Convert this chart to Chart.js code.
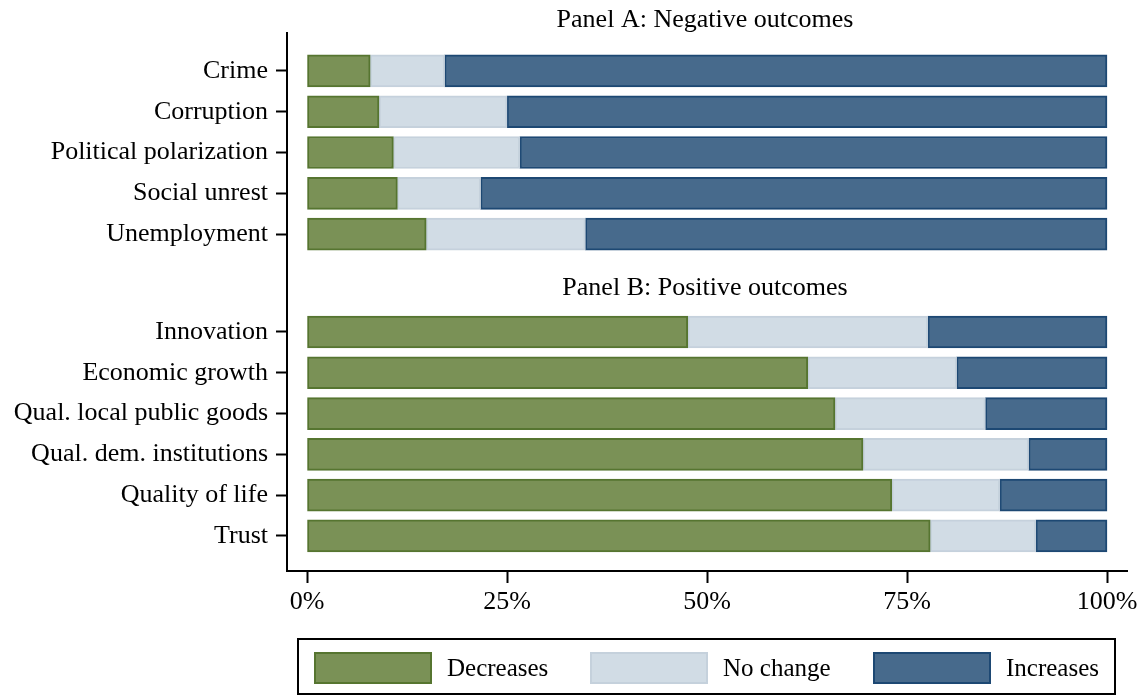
<!DOCTYPE html>
<html>
<head>
<meta charset="utf-8">
<script src="https://cdn.jsdelivr.net/npm/chart.js@4.4.1/dist/chart.umd.min.js"></script>
<style>
html,body{margin:0;padding:0;background:#fff;}
#wrap{position:relative;width:1147px;height:696px;overflow:hidden;}
#legend{position:absolute;left:297px;top:638px;width:819px;height:57px;box-sizing:border-box;border:2px solid #000;}
.item{position:absolute;top:12px;height:32px;display:flex;align-items:center;font-family:"Liberation Serif",serif;font-size:25px;color:#000;white-space:nowrap;}
.sw{width:118px;height:32px;box-sizing:border-box;border:2px solid;margin-right:15px;}
</style>
</head>
<body>
<div id="wrap">
<canvas id="c" width="1147" height="696"></canvas>
<div id="legend"></div>
</div>
<script>
// ---- data ----
const categoriesA = ['Crime','Corruption','Political polarization','Social unrest','Unemployment'];
const decreasesA  = [7.9, 9.0, 10.8, 11.3, 14.9];
const noChangeA   = [9.3, 16.0, 15.8, 10.4, 19.9];
const increasesA  = [82.8, 75.0, 73.4, 78.3, 65.2];

const categoriesB = ['Innovation','Economic growth','Qual. local public goods','Qual. dem. institutions','Quality of life','Trust'];
const decreasesB  = [47.6, 62.6, 66.0, 69.5, 73.1, 77.9];
const noChangeB   = [30.0, 18.6, 18.8, 20.7, 13.5, 13.2];
const increasesB  = [22.4, 18.8, 15.2, 9.8, 13.4, 8.9];

const seriesNames = ['Decreases','No change','Increases'];
const xTicks = [0, 25, 50, 75, 100];
const panelTitles = ['Panel A: Negative outcomes','Panel B: Positive outcomes'];

// ---- layout (slot positions on the category axis) ----
const gapB = 6.4;            // slot where panel B starts
const titleSlotB = 5.32;     // slot for panel B title
const posA = categoriesA.map((_, i) => i);
const posB = categoriesB.map((_, i) => gapB + i);
const positions = posA.concat(posB);
const labels = categoriesA.concat(categoriesB);

const fills   = ['#7a9156', '#d1dce5', '#476a8c'];
const borders = ['#567530', '#c5d1dc', '#1d4873'];
const valuesAll = [
  decreasesA.concat(decreasesB),
  noChangeA.concat(noChangeB),
  increasesA.concat(increasesB)
];

const FONT = '"Liberation Serif", "Times New Roman", serif';

const datasets = seriesNames.map((name, s) => ({
  label: name,
  data: positions.map((p, i) => ({ x: valuesAll[s][i], y: p })),
  backgroundColor: fills[s],
  borderColor: borders[s],
  borderWidth: 2,
  borderSkipped: false,
  barThickness: 32
}));

const titlePlugin = {
  id: 'panelTitles',
  afterDraw(chart) {
    const ctx = chart.ctx;
    const xs = chart.scales.x, ys = chart.scales.y;
    ctx.save();
    ctx.fillStyle = '#000';
    ctx.font = '26px ' + FONT;
    ctx.textAlign = 'center';
    ctx.textBaseline = 'middle';
    const cx = xs.getPixelForValue(50) - 2;
    ctx.fillText(panelTitles[0], cx, 20);
    ctx.fillText(panelTitles[1], cx, ys.getPixelForValue(titleSlotB));
    ctx.restore();
  }
};

new Chart(document.getElementById('c'), {
  type: 'bar',
  data: { datasets },
  options: {
    indexAxis: 'y',
    responsive: false,
    animation: false,
    layout: { padding: { top: 33, right: 20, bottom: 75, left: 0 } },
    plugins: { legend: { display: false }, tooltip: { enabled: false } },
    scales: {
      x: {
        type: 'linear',
        stacked: true,
        offset: false,
        min: -2.5, max: 102.5,
        afterBuildTicks(scale) { scale.ticks = xTicks.map(v => ({ value: v })); },
        afterFit(scale) { scale.height = 50; },
        border: { display: true, color: '#000', width: 2 },
        grid: { offset: false, drawOnChartArea: false, drawTicks: true, tickLength: 12, tickWidth: 2, tickColor: '#000' },
        ticks: { color: '#000', font: { family: FONT, size: 26 }, padding: 4, callback: v => v + '%' }
      },
      y: {
        type: 'linear',
        stacked: true,
        reverse: true,
        offset: false,
        min: -0.93, max: 12.26,
        afterBuildTicks(scale) { scale.ticks = positions.map(v => ({ value: v })); },
        afterFit(scale) { scale.width = 287; },
        border: { display: true, color: '#000', width: 2 },
        grid: { offset: false, drawOnChartArea: false, drawTicks: true, tickLength: 11, tickWidth: 2, tickColor: '#000' },
        ticks: { color: '#000', font: { family: FONT, size: 26 }, padding: 8, autoSkip: false,
                 callback: (v, i) => labels[i] }
      }
    }
  },
  plugins: [titlePlugin]
});

// ---- legend (HTML) ----
const legendLefts = [15, 291, 574];
const leg = document.getElementById('legend');
seriesNames.forEach((name, s) => {
  const it = document.createElement('div');
  it.className = 'item';
  it.style.left = legendLefts[s] + 'px';
  const sw = document.createElement('div');
  sw.className = 'sw';
  sw.style.background = fills[s];
  sw.style.borderColor = borders[s];
  const tx = document.createElement('span');
  tx.textContent = name;
  it.appendChild(sw); it.appendChild(tx);
  leg.appendChild(it);
});
</script>
</body>
</html>
